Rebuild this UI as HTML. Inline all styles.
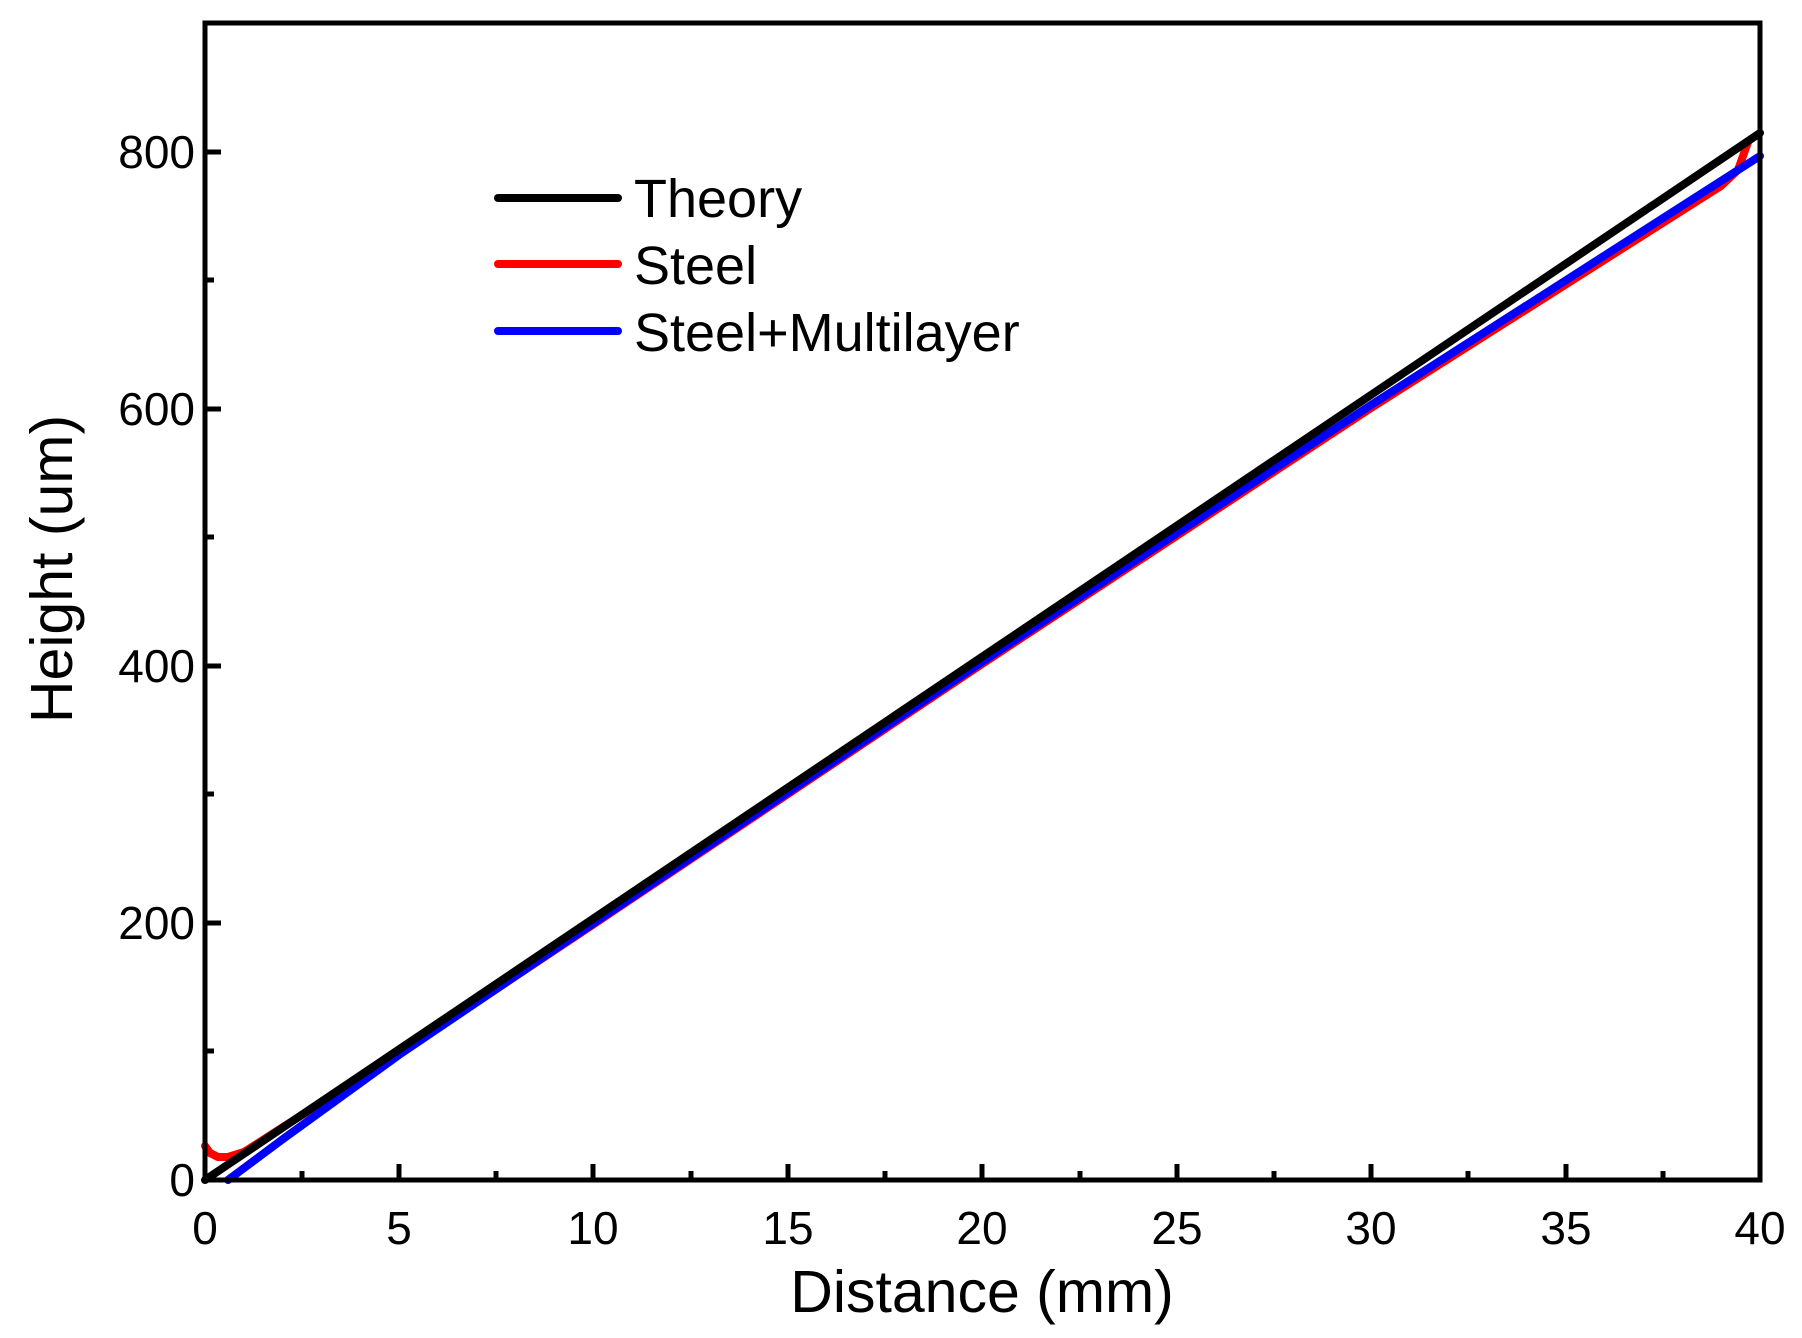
<!DOCTYPE html>
<html><head><style>body{margin:0;background:#fff}</style></head><body>
<svg width="1802" height="1333" xmlns="http://www.w3.org/2000/svg" font-family="Liberation Sans, Arial, sans-serif">
<rect width="1802" height="1333" fill="#fff"/>
<g fill="none" stroke-linecap="round" stroke-linejoin="round" stroke-width="8">
<polyline stroke="#f00" points="205,1146 210,1153 218,1157 228,1157 244,1152 283,1127 399,1054 594,924 982,664 1371,408 1721,186 1738,170 1748,142"/>
<polyline stroke="#00f" points="228,1180 283,1139 399,1055 594,923 982,662 1371,405 1760,156"/>
<polyline stroke="#000" points="205,1180 1760,133"/>
</g>
<g stroke="#000" stroke-width="5" fill="none">
<rect x="205" y="23" width="1555" height="1157"/>
<path d="M399,1180v-16M593,1180v-16M788,1180v-16M982,1180v-16M1177,1180v-16M1371,1180v-16M1566,1180v-16
M302,1180v-9M496,1180v-9M691,1180v-9M885,1180v-9M1080,1180v-9M1274,1180v-9M1468,1180v-9M1663,1180v-9
M205,923h16M205,666h16M205,409h16M205,152h16
M205,1051h9M205,794h9M205,537h9M205,280h9"/>
</g>
<g font-size="46" fill="#000" text-anchor="middle">
<text x="205" y="1244">0</text><text x="399" y="1244">5</text><text x="593" y="1244">10</text><text x="788" y="1244">15</text><text x="982" y="1244">20</text><text x="1177" y="1244">25</text><text x="1371" y="1244">30</text><text x="1566" y="1244">35</text><text x="1760" y="1244">40</text>
</g>
<g font-size="46" fill="#000" text-anchor="end">
<text x="195" y="1196">0</text><text x="195" y="939">200</text><text x="195" y="682">400</text><text x="195" y="425">600</text><text x="195" y="168">800</text>
</g>
<text x="982" y="1312" font-size="59" text-anchor="middle">Distance (mm)</text>
<text transform="translate(72,569) rotate(-90)" font-size="59" text-anchor="middle">Height (um)</text>
<g stroke-width="8" stroke-linecap="round">
<line x1="498" y1="198" x2="618" y2="198" stroke="#000"/>
<line x1="498" y1="264" x2="618" y2="264" stroke="#f00"/>
<line x1="498" y1="331" x2="618" y2="331" stroke="#00f"/>
</g>
<g font-size="54" fill="#000">
<text x="634" y="217">Theory</text><text x="634" y="284">Steel</text><text x="634" y="351">Steel+Multilayer</text>
</g>
</svg>
</body></html>
